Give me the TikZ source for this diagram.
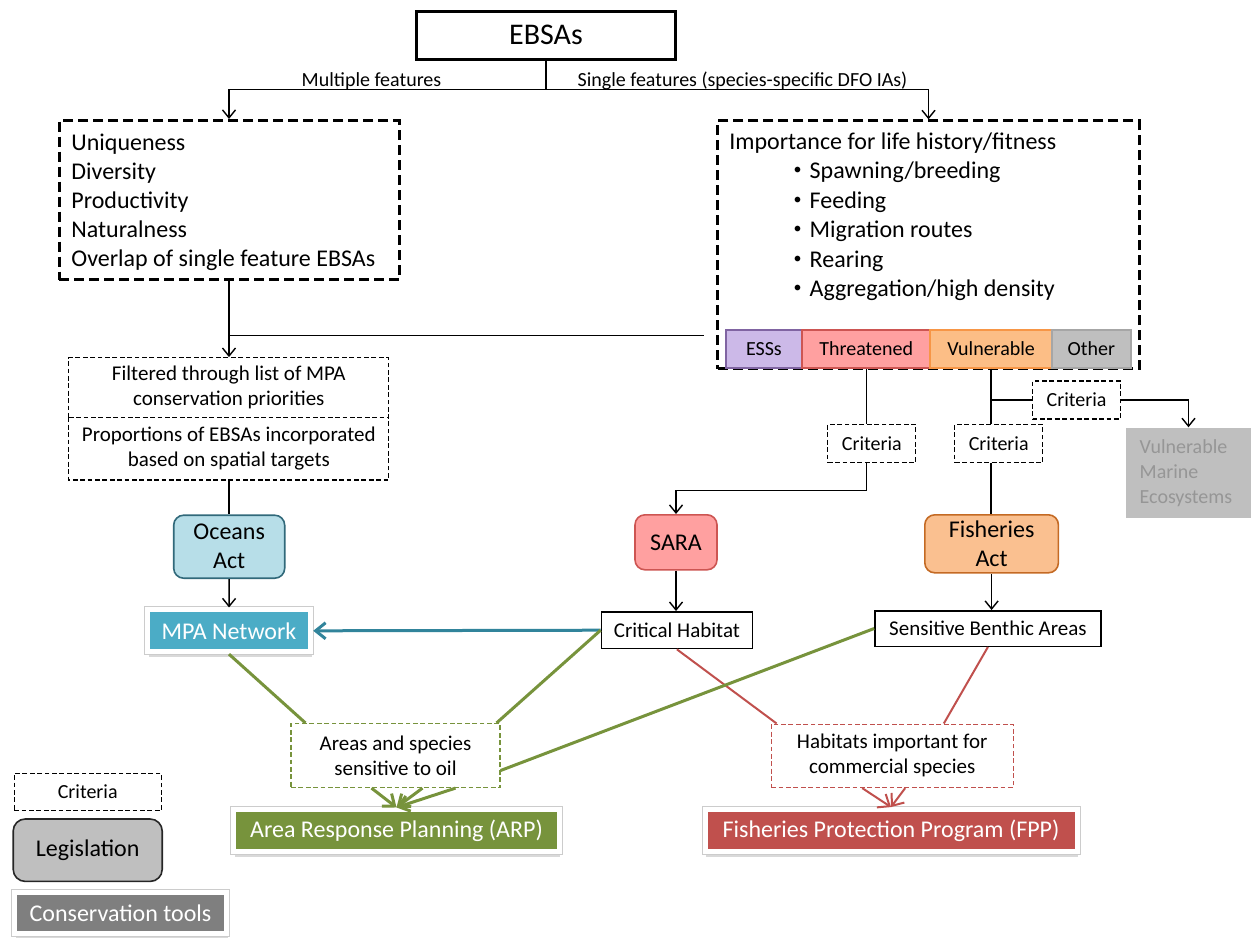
\documentclass[tikz,border=0pt]{standalone}
\usepackage{fontspec}
\setmainfont{Carlito}
\usetikzlibrary{arrows.meta,shadows}

\definecolor{essfill}{RGB}{204,185,232}
\definecolor{essline}{RGB}{128,100,162}
\definecolor{thrfill}{RGB}{255,160,160}
\definecolor{thrline}{RGB}{205,85,82}
\definecolor{vulfill}{RGB}{252,190,134}
\definecolor{vulline}{RGB}{247,150,70}
\definecolor{othfill}{RGB}{191,191,191}
\definecolor{othline}{RGB}{166,166,166}
\definecolor{oceanfill}{RGB}{183,222,232}
\definecolor{oceanline}{RGB}{49,105,122}
\definecolor{fishfill}{RGB}{250,192,144}
\definecolor{fishline}{RGB}{196,106,36}
\definecolor{mpablue}{RGB}{75,172,198}
\definecolor{tealline}{RGB}{49,132,155}
\definecolor{arpgreen}{RGB}{119,147,60}
\definecolor{fppred}{RGB}{192,80,77}
\definecolor{toolgrey}{RGB}{127,127,127}
\definecolor{vmefill}{RGB}{191,191,191}
\definecolor{vmetext}{RGB}{150,150,150}

\newcommand{\smallbul}{\raisebox{2pt}{\fontsize{8}{8}\selectfont\textbullet}\hspace{4pt}}

\begin{document}
\begin{tikzpicture}[x=0.5pt, y=-0.5pt, line width=0.7pt,
	>={Straight Barb[length=4pt,width=6.5pt]},
	every node/.style={inner sep=0pt, align=center, font=\fontsize{10}{12.5}\selectfont},
	bigtext/.style={font=\fontsize{12}{14.5}\selectfont},
	midtext/.style={font=\fontsize{10.5}{12.5}\selectfont},
	thickdash/.style={draw, line width=1.5pt, dash pattern=on 5pt off 2.5pt},
	thindash/.style={draw, line width=0.6pt, dash pattern=on 2.4pt off 1.3pt},
	critbox/.style={thindash, minimum width=44pt, minimum height=19pt},
	catbox/.style={draw=#1line, fill=#1fill, line width=0.9pt, minimum height=19pt},
	lawbox/.style={rounded corners=5pt, bigtext, line width=0.8pt},
	plainbox/.style={draw, line width=0.75pt, midtext},
	toolbox/.style={fill=#1, draw=white, line width=2.5pt, text=white, bigtext, minimum height=20.85pt,
		drop shadow={opacity=0.3, shadow xshift=0.6pt, shadow yshift=-2.8pt},
		preaction={draw=black!20, line width=3.5pt}},
	greenline/.style={draw=arpgreen, line width=1.5pt},
	redline/.style={draw=fppred, line width=1pt},
	tipbig/.style={-{Straight Barb[length=5pt,width=8pt]}}]
	\useasboundingbox (0,0) rectangle (1251,937);

	% top
	\node[draw, line width=1.5pt, minimum width=129.5pt, minimum height=24pt, font=\fontsize{15}{18}\selectfont] (ebsa) at (546,35) {EBSAs};
	\node[thickdash, minimum width=170pt, minimum height=79.5pt] (multi) at (229,200) {};
	\node[thickdash, minimum width=210.75pt, minimum height=123.85pt] (single) at (928.5,244.7) {};
	\foreach \txt [count=\i from 0] in {Uniqueness, Diversity, Productivity, Naturalness, Overlap of single feature EBSAs}
		\node[bigtext, anchor=base west] (feat\i) at (70.7,150.4+29*\i) {\txt};
	\node[bigtext, anchor=base west] (life) at (728.6,149.4) {Importance for life history/fitness};
	\foreach \txt [count=\i] in {Spawning/breeding, Feeding, Migration routes, Rearing, Aggregation/high density}
		\node[bigtext, anchor=base west] (item\i) at (793,149.4+29.4*\i) {\smallbul\txt};
	\node[catbox=ess, minimum width=38pt] (ess) at (763.9,348.8) {ESSs};
	\node[catbox=thr, minimum width=64pt] (thr) at (866.2,348.8) {Threatened};
	\node[catbox=vul, minimum width=60.8pt] (vul) at (991.1,348.8) {Vulnerable};
	\node[catbox=oth, minimum width=39.4pt] (oth) at (1091.3,348.8) {Other};

	% left column
	\node[thindash, midtext, minimum width=160pt, minimum height=29.8pt] (filt) at (228.8,387.5) {Filtered through list of MPA\\conservation priorities};
	\node[midtext, outer sep=0pt, minimum width=160pt, minimum height=31.3pt] (prop) at (228.8,448.6) {Proportions of EBSAs incorporated\\based on spatial targets};
	\draw[thindash] (prop.north west) -- (prop.south west) -- (prop.south east) -- (prop.north east);
	\node[lawbox, draw=oceanline, fill=oceanfill, minimum width=55.5pt, minimum height=31.5pt] (oceans) at (229.2,546.7) {Oceans\\Act};
	\node[toolbox=mpablue, minimum width=81.7pt] (mpa) at (229,630.8) {MPA Network};

	% right columns
	\node[critbox] (crita) at (871.8,443.3) {Criteria};
	\node[critbox] (critb) at (998.7,443.3) {Criteria};
	\node[critbox] (critc) at (1076.5,400) {Criteria};
	\node[fill=vmefill, text=vmetext, minimum width=62.5pt, minimum height=45pt, text width=48.8pt, align=left] (vme) at (1188.5,473) {Vulnerable\\Marine\\Ecosystems};
	\node[lawbox, draw=thrline, fill=thrfill, minimum width=41pt, minimum height=27.5pt] (sara) at (676,542.3) {SARA};
	\node[lawbox, draw=fishline, fill=fishfill, minimum width=66.8pt, minimum height=29pt] (fish) at (991.6,543.8) {Fisheries\\Act};
	\node[plainbox, minimum width=75.5pt, minimum height=18.4pt] (crit) at (676.9,630.2) {Critical Habitat};
	\node[plainbox, minimum width=113pt, minimum height=17.75pt] (benthic) at (987.9,628.5) {Sensitive Benthic Areas};

	% bottom
	\node[thindash, draw=arpgreen, midtext, minimum width=104.5pt, minimum height=32pt] (oil) at (395.5,755.5) {Areas and species\\sensitive to oil};
	\node[thindash, draw=fppred, midtext, minimum width=121pt, minimum height=31.7pt] (habitat) at (892.2,755.8) {Habitats important for\\commercial species};
	\node[toolbox=arpgreen, minimum width=162.75pt] (arp) at (396.5,830.8) {Area Response Planning (ARP)};
	\node[toolbox=fppred, minimum width=186pt] (fpp) at (891,830.4) {Fisheries Protection Program (FPP)};

	% legend
	\node[critbox, minimum width=73.5pt, minimum height=18.6pt] (legcrit) at (87.7,792) {Criteria};
	\node[lawbox, draw=black!85, fill=othfill, rounded corners=6pt, minimum width=74.5pt, minimum height=31.2pt] (legleg) at (87.7,850.2) {Legislation};
	\node[toolbox=toolgrey, minimum width=106pt] (legtool) at (120.5,912.9) {Conservation tools};

	% connectors
	\coordinate (split) at (546,89.3);
	\draw (ebsa) -- (split);
	\draw[->] (split) -| (multi.north);
	\draw[->] (split) -| (single.north);
	\node[anchor=base] (lmulti) at (371.5,86.5) {Multiple features};
	\node[anchor=base] (lsingle) at (742.5,86.5) {Single features (species-specific DFO IAs)};
	\coordinate (join) at (229,335.7);
	\draw[->] (multi.south) -- (multi.south |- filt.north);
	\draw[shorten >=6pt] (join) -- (join -| single.west);
	\draw (prop.south) -- (prop.south |- oceans.north);
	\draw[->] (oceans) -- (mpa);
	\draw (thr.south) -- (thr.south |- crita.north);
	\draw[->] (thr.south |- crita.south) -- ++(0,27.5) -| (sara.north);
	\draw[->] (sara.south) -- (sara.south |- crit.north);
	\draw (vul.south) -- (vul.south |- critb.north);
	\draw (vul.south |- critc.west) -- (critc.west);
	\draw[->] (critc.east) -| (vme.north);
	\draw (vul.south |- critb.south) -- (vul.south |- fish.north);
	\draw[->] (fish.south) -- (fish.south |- benthic.north);
	\draw[draw=tealline, line width=1.5pt, tipbig] (crit.west) -- (mpa.east);

	\draw[redline] (crit.south) -- ([shift={(6,0)}]habitat.north west);
	\draw[redline] (benthic.south) -- ([shift={(-70,0)}]habitat.north east);
	\foreach \dx in {-30,13} \draw[redline, tipbig] ([shift={(\dx,0)}]habitat.south) -- (fpp.north);
	\draw[greenline] (mpa.south) -- ([shift={(15,0)}]oil.north west);
	\draw[greenline] (crit.west) -- ([shift={(-4,0)}]oil.north east);
	\draw[greenline] (benthic.west) -- ([shift={(0,15)}]oil.east);
	\foreach \dx in {-24,27,60} \draw[greenline, tipbig] ([shift={(\dx,0)}]oil.south) -- (arp.north);

\end{tikzpicture}
\end{document}
